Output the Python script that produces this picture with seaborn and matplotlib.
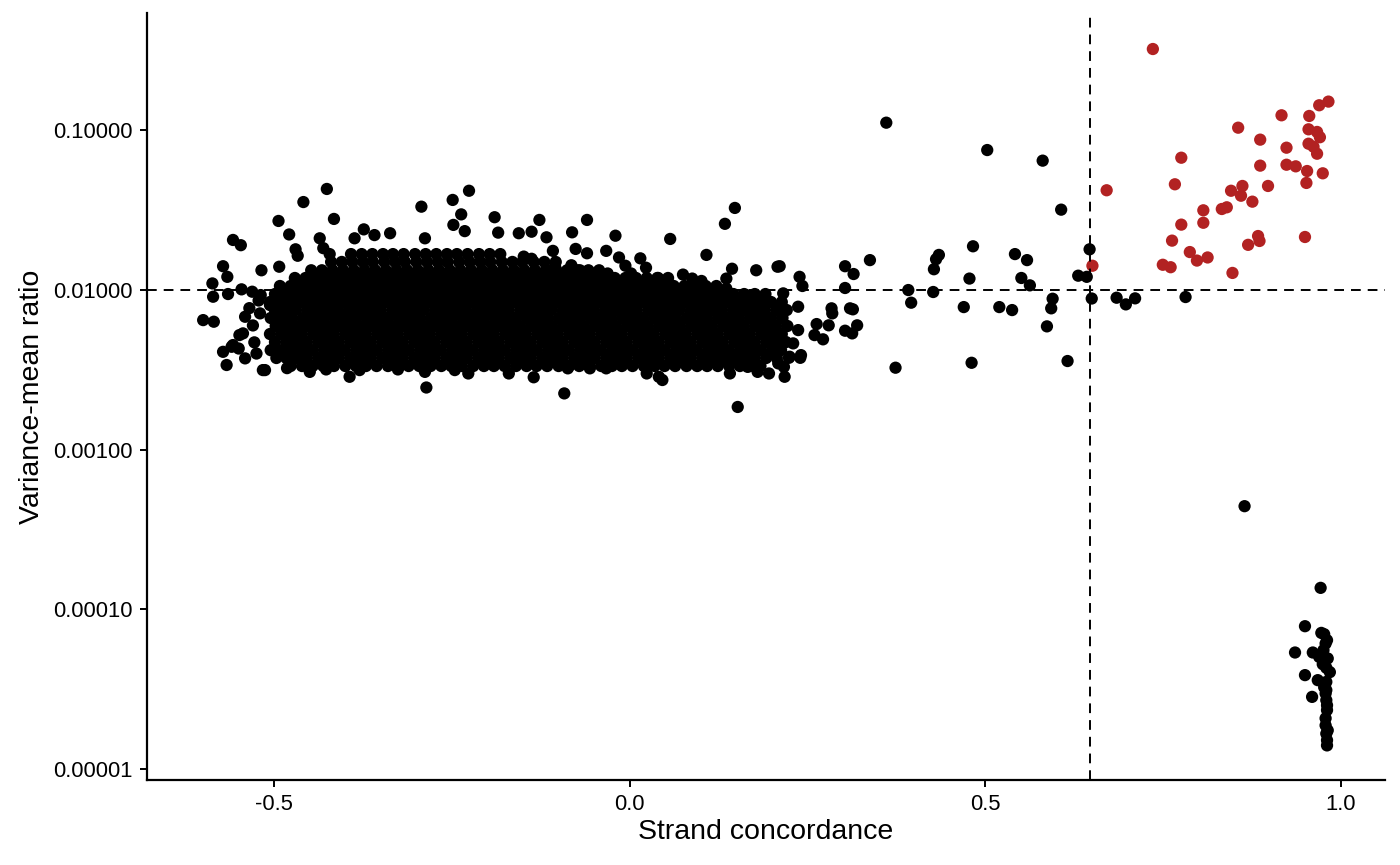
import seaborn as sns
import matplotlib.pyplot as plt
import pandas as pd
import numpy as np

# -------------------------------
# Data
# -------------------------------
# dense cloud of genes, read as rows of overlapping dots (variance-mean ratio per row)
blob_rows_y = [0.0168, 0.0150, 0.0133, 0.0119, 0.0106, 0.00944, 0.00841, 0.00749,
               0.00668, 0.00595, 0.00530, 0.00472, 0.00420, 0.00375, 0.00334]

blob_rows_x = [
    [-0.392, -0.377, -0.362, -0.347, -0.333, -0.318, -0.302, -0.287, -0.272, -0.257, -0.243,
     -0.228, -0.212, -0.197, -0.182],
    [-0.420, -0.405, -0.390, -0.375, -0.361, -0.345, -0.330, -0.316, -0.300, -0.285, -0.270,
     -0.256, -0.240, -0.225, -0.210, -0.196, -0.180, -0.165, -0.151, -0.135, -0.120, -0.104],
    [-0.448, -0.433, -0.418, -0.403, -0.388, -0.373, -0.358, -0.343, -0.328, -0.313, -0.298,
     -0.283, -0.268, -0.253, -0.238, -0.223, -0.208, -0.193, -0.178, -0.163, -0.148, -0.133,
     -0.118, -0.103, -0.088, -0.073, -0.058, -0.043],
    [-0.471, -0.456, -0.441, -0.426, -0.411, -0.396, -0.381, -0.366, -0.351, -0.336, -0.321,
     -0.306, -0.291, -0.276, -0.261, -0.246, -0.231, -0.216, -0.201, -0.186, -0.171, -0.156,
     -0.141, -0.126, -0.111, -0.096, -0.081, -0.066, -0.051, -0.036, -0.021, -0.006, 0.009,
     0.024, 0.039, 0.054],
    [-0.492, -0.477, -0.462, -0.448, -0.433, -0.418, -0.403, -0.388, -0.373, -0.358, -0.343,
     -0.328, -0.313, -0.298, -0.283, -0.268, -0.253, -0.238, -0.223, -0.208, -0.193, -0.178,
     -0.163, -0.148, -0.133, -0.118, -0.103, -0.088, -0.073, -0.058, -0.043, -0.028, -0.013,
     0.002, 0.017, 0.032, 0.047, 0.062, 0.077, 0.092, 0.107, 0.122],
    [-0.499, -0.484, -0.469, -0.454, -0.439, -0.424, -0.409, -0.394, -0.379, -0.364, -0.349,
     -0.334, -0.319, -0.304, -0.289, -0.274, -0.259, -0.244, -0.229, -0.214, -0.199, -0.184,
     -0.169, -0.154, -0.139, -0.124, -0.109, -0.094, -0.079, -0.064, -0.049, -0.034, -0.019,
     -0.004, 0.011, 0.026, 0.041, 0.056, 0.071, 0.086, 0.101, 0.116, 0.131, 0.146, 0.161,
     0.176, 0.191],
    [-0.506, -0.491, -0.476, -0.461, -0.446, -0.431, -0.416, -0.401, -0.386, -0.371, -0.356,
     -0.341, -0.326, -0.311, -0.296, -0.281, -0.266, -0.251, -0.236, -0.221, -0.206, -0.191,
     -0.176, -0.161, -0.146, -0.131, -0.116, -0.101, -0.086, -0.071, -0.056, -0.041, -0.026,
     -0.011, 0.004, 0.019, 0.034, 0.049, 0.064, 0.079, 0.094, 0.109, 0.124, 0.139, 0.154,
     0.169, 0.184, 0.199, 0.214],
    [-0.499, -0.484, -0.470, -0.454, -0.439, -0.424, -0.410, -0.394, -0.379, -0.364, -0.350,
     -0.334, -0.319, -0.304, -0.290, -0.274, -0.259, -0.244, -0.230, -0.214, -0.199, -0.184,
     -0.170, -0.154, -0.139, -0.124, -0.110, -0.094, -0.079, -0.064, -0.050, -0.034, -0.019,
     -0.004, 0.010, 0.026, 0.041, 0.056, 0.070, 0.086, 0.101, 0.116, 0.130, 0.146, 0.161,
     0.176, 0.190, 0.206, 0.221],
    [-0.505, -0.491, -0.476, -0.460, -0.446, -0.431, -0.415, -0.401, -0.386, -0.370, -0.356,
     -0.341, -0.325, -0.311, -0.296, -0.280, -0.266, -0.251, -0.235, -0.221, -0.206, -0.190,
     -0.176, -0.161, -0.145, -0.131, -0.116, -0.100, -0.086, -0.071, -0.055, -0.041, -0.026,
     -0.010, 0.004, 0.019, 0.035, 0.049, 0.064, 0.080, 0.094, 0.109, 0.125, 0.139, 0.154,
     0.170, 0.184, 0.199, 0.215],
    [-0.498, -0.484, -0.469, -0.453, -0.439, -0.424, -0.408, -0.394, -0.379, -0.363, -0.349,
     -0.334, -0.318, -0.304, -0.289, -0.273, -0.259, -0.244, -0.228, -0.214, -0.199, -0.183,
     -0.169, -0.154, -0.138, -0.124, -0.109, -0.093, -0.079, -0.064, -0.048, -0.034, -0.019,
     -0.003, 0.011, 0.026, 0.042, 0.056, 0.071, 0.087, 0.101, 0.116, 0.132, 0.146, 0.161,
     0.177, 0.191, 0.206, 0.222],
    [-0.506, -0.490, -0.476, -0.461, -0.445, -0.431, -0.416, -0.400, -0.386, -0.371, -0.355,
     -0.341, -0.326, -0.310, -0.296, -0.281, -0.265, -0.251, -0.236, -0.220, -0.206, -0.191,
     -0.175, -0.161, -0.146, -0.130, -0.116, -0.101, -0.085, -0.071, -0.056, -0.040, -0.026,
     -0.011, 0.005, 0.019, 0.034, 0.050, 0.064, 0.079, 0.095, 0.109, 0.124, 0.140, 0.154,
     0.169, 0.185, 0.199, 0.214],
    [-0.499, -0.483, -0.469, -0.454, -0.438, -0.424, -0.409, -0.393, -0.379, -0.364, -0.348,
     -0.334, -0.319, -0.303, -0.289, -0.274, -0.258, -0.244, -0.229, -0.213, -0.199, -0.184,
     -0.168, -0.154, -0.139, -0.123, -0.109, -0.094, -0.078, -0.064, -0.049, -0.033, -0.019,
     -0.004, 0.012, 0.026, 0.041, 0.057, 0.071, 0.086, 0.102, 0.116, 0.131, 0.147, 0.161,
     0.176, 0.192, 0.206, 0.220],
    [-0.505, -0.490, -0.475, -0.461, -0.446, -0.430, -0.416, -0.401, -0.385, -0.371, -0.356,
     -0.340, -0.326, -0.311, -0.295, -0.281, -0.266, -0.250, -0.236, -0.221, -0.205, -0.191,
     -0.176, -0.160, -0.146, -0.131, -0.115, -0.101, -0.086, -0.070, -0.056, -0.041, -0.025,
     -0.011, 0.004, 0.020, 0.034, 0.049, 0.065, 0.079, 0.094, 0.110, 0.124, 0.139, 0.155,
     0.169, 0.184, 0.200, 0.213],
    [-0.497, -0.483, -0.468, -0.454, -0.438, -0.423, -0.409, -0.393, -0.378, -0.364, -0.348,
     -0.333, -0.319, -0.303, -0.288, -0.274, -0.258, -0.243, -0.229, -0.213, -0.198, -0.184,
     -0.168, -0.153, -0.139, -0.123, -0.108, -0.094, -0.078, -0.063, -0.049, -0.033, -0.018,
     -0.004, 0.012, 0.027, 0.041, 0.057, 0.072, 0.086, 0.102, 0.117, 0.131, 0.147, 0.162,
     0.176, 0.192, 0.207],
    [-0.477, -0.461, -0.446, -0.431, -0.416, -0.400, -0.385, -0.371, -0.356, -0.340, -0.325,
     -0.311, -0.296, -0.280, -0.265, -0.251, -0.236, -0.220, -0.205, -0.191, -0.176, -0.160,
     -0.145, -0.131, -0.116, -0.100, -0.085, -0.071, -0.056, -0.040, -0.025, -0.011, 0.004,
     0.020, 0.035, 0.049, 0.064, 0.080, 0.095, 0.109, 0.124, 0.140, 0.155, 0.169, 0.184],
]

# scattered black genes around and outside the cloud
other_x = [
    -0.426, -0.459, -0.416, -0.494, -0.479, -0.558, -0.547, -0.470, -0.436, -0.431, -0.467,
    -0.422, -0.572, -0.566, -0.587, -0.586, -0.565, -0.546, -0.531, -0.519, -0.518, -0.493,
    -0.600, -0.585, -0.572, -0.560, -0.567, -0.541, -0.516, -0.544, -0.541, -0.520, -0.506,
    -0.387, -0.374, -0.359, -0.337, -0.293, -0.288, -0.249, -0.226, -0.237, -0.248, -0.232,
    -0.190, -0.185, -0.394, -0.286, -0.530, -0.528, -0.525, -0.535, -0.550, -0.522,
    -0.558, -0.549, -0.513, -0.482, -0.450, -0.427, -0.380, -0.326, -0.288, -0.246, -0.227,
    -0.127, -0.060, -0.138, -0.156, -0.117, -0.081, -0.020, 0.057, 0.148, 0.134, 0.108,
    -0.108, -0.076, -0.060, -0.033, -0.015, 0.015, -0.006, 0.002, -0.149, -0.138, -0.105,
    -0.082, -0.070, -0.047, -0.031, 0.023, 0.040, 0.075, 0.088, 0.101, 0.144, 0.136, 0.136,
    0.178, 0.208, 0.216, 0.190, 0.164, 0.237, 0.237, 0.230, 0.241, 0.225, 0.209, 0.196,
    0.180, 0.166, 0.138, 0.141, 0.152, 0.083, 0.108, 0.041, 0.046, 0.024, -0.092, -0.087,
    -0.056, -0.033, -0.135, -0.170,
    0.361, 0.503, 0.581, 0.607, 0.483, 0.542, 0.559, 0.435, 0.431, 0.428, 0.338, 0.303,
    0.315, 0.239, 0.243, 0.211, 0.478, 0.551, 0.563, 0.631, 0.303, 0.392, 0.396, 0.427,
    0.470, 0.520, 0.538, 0.595, 0.593, 0.587, 0.284, 0.285, 0.310, 0.314, 0.263, 0.280,
    0.260, 0.272, 0.303, 0.313, 0.320, 0.374, 0.481, 0.616, 0.240, 0.224, 0.217, 0.218,
    0.647, 0.643, 0.650, 0.685, 0.698, 0.711, 0.782, 0.865, 0.972,
]
other_y = [
    0.0430, 0.0356, 0.0279, 0.0271, 0.0223, 0.0206, 0.0191, 0.0180, 0.0211, 0.0183, 0.0164,
    0.0168, 0.0141, 0.0121, 0.0110, 0.00908, 0.00944, 0.0101, 0.00976, 0.00930, 0.0133, 0.0140,
    0.00648, 0.00633, 0.00410, 0.00441, 0.00339, 0.00373, 0.00315, 0.00535, 0.00680, 0.00714, 0.00805,
    0.0211, 0.0240, 0.0221, 0.0227, 0.0333, 0.0211, 0.0367, 0.0419, 0.0298, 0.0256, 0.0234,
    0.0286, 0.0229, 0.00286, 0.00245, 0.00600, 0.00470, 0.00400, 0.00770, 0.00430, 0.00860,
    0.00452, 0.00522, 0.00315, 0.00324, 0.00307, 0.00318, 0.00315, 0.00318, 0.00307, 0.00315, 0.00300,
    0.0275, 0.0275, 0.0232, 0.0227, 0.0214, 0.0230, 0.0219, 0.0209, 0.0327, 0.0260, 0.0166,
    0.0176, 0.0181, 0.0170, 0.0176, 0.0160, 0.0158, 0.0142, 0.0127, 0.0162, 0.0157, 0.0141,
    0.0143, 0.0133, 0.0128, 0.0127, 0.0138, 0.0119, 0.0125, 0.0118, 0.0114, 0.0136, 0.0118, 0.0102,
    0.0133, 0.0140, 0.00953, 0.00887, 0.00930, 0.00786, 0.00561, 0.00463, 0.00391, 0.00382, 0.00347, 0.00300,
    0.00307, 0.00330, 0.00355, 0.00300, 0.00185, 0.00355, 0.00373, 0.00286, 0.00273, 0.00300, 0.00225, 0.00323,
    0.00323, 0.00323, 0.00284, 0.00300,
    0.1119, 0.0754, 0.0647, 0.0319, 0.0188, 0.0168, 0.0154, 0.0166, 0.0156, 0.0135, 0.0154, 0.0141,
    0.0126, 0.0121, 0.0106, 0.0141, 0.0118, 0.0119, 0.0107, 0.0123, 0.0103, 0.0100, 0.00833, 0.00972,
    0.00782, 0.00782, 0.00749, 0.00882, 0.00768, 0.00592, 0.00768, 0.00714, 0.00768, 0.00757, 0.00612, 0.00601,
    0.00522, 0.00491, 0.00556, 0.00535, 0.00601, 0.00326, 0.00350, 0.00359, 0.00376, 0.00376, 0.00330, 0.00286,
    0.0180, 0.0121, 0.00885, 0.00895, 0.00813, 0.00887, 0.00904, 0.000442, 0.000136,
]

# low-ratio column near concordance 1
low_x = [0.950, 0.973, 0.977, 0.979, 0.936, 0.961, 0.970, 0.982, 0.980, 0.950, 0.968, 0.980,
         0.979, 0.960, 0.980, 0.981, 0.979, 0.980, 0.981, 0.981, 0.980, 0.979, 0.982, 0.976,
         0.981, 0.975, 0.985, 0.981, 0.977]
low_y = [7.82e-5, 7.10e-5, 6.97e-5, 6.09e-5, 5.35e-5, 5.35e-5, 5.02e-5, 4.91e-5, 4.29e-5, 3.86e-5,
         3.59e-5, 3.50e-5, 2.96e-5, 2.82e-5, 2.69e-5, 2.33e-5, 1.87e-5, 1.66e-5, 1.51e-5, 1.40e-5,
         3.11e-5, 2.07e-5, 1.74e-5, 5.53e-5, 6.39e-5, 4.52e-5, 4.03e-5, 2.50e-5, 3.24e-5]

# highlighted genes (high concordance and high variance-mean ratio)
sel_x = [0.736, 0.983, 0.970, 0.917, 0.956, 0.856, 0.955, 0.967, 0.971, 0.887, 0.955, 0.962,
         0.924, 0.967, 0.776, 0.887, 0.924, 0.937, 0.953, 0.975, 0.952, 0.767, 0.898, 0.862,
         0.846, 0.860, 0.671, 0.876, 0.840, 0.833, 0.807, 0.807, 0.776, 0.950, 0.884, 0.886,
         0.870, 0.763, 0.788, 0.813, 0.798, 0.750, 0.761, 0.848, 0.651]
sel_y = [0.324, 0.1517, 0.1439, 0.1245, 0.1233, 0.1041, 0.1017, 0.0979, 0.0907, 0.0876, 0.0826,
         0.0791, 0.0780, 0.0715, 0.0675, 0.0602, 0.0610, 0.0596, 0.0557, 0.0539, 0.0469, 0.0460,
         0.0449, 0.0449, 0.0419, 0.0390, 0.0422, 0.0358, 0.0330, 0.0322, 0.0316, 0.0264, 0.0257,
         0.0215, 0.0218, 0.0203, 0.0192, 0.0204, 0.0173, 0.0160, 0.0153, 0.0144, 0.0139, 0.0128,
         0.0142]

conc_cut = 0.647
ratio_cut = 0.01
y_ticks = [1e-5, 1e-4, 1e-3, 1e-2, 1e-1]
y_tick_labels = ["0.00001", "0.00010", "0.00100", "0.01000", "0.10000"]
x_ticks = [-0.5, 0.0, 0.5, 1.0]
x_tick_labels = ["-0.5", "0.0", "0.5", "1.0"]

# -------------------------------
# Build one table
# -------------------------------
bx, by = [], []
for yv, row in zip(blob_rows_y, blob_rows_x):
    bx += row
    by += [yv] * len(row)

df = pd.concat([
    pd.DataFrame({"conc": bx, "ratio": by, "group": "other"}),
    pd.DataFrame({"conc": other_x, "ratio": other_y, "group": "other"}),
    pd.DataFrame({"conc": low_x, "ratio": low_y, "group": "other"}),
    pd.DataFrame({"conc": sel_x, "ratio": sel_y, "group": "selected"}),
], ignore_index=True)

# -------------------------------
# Style
# -------------------------------
sns.set_style("ticks")
plt.rcParams["font.family"] = ["Liberation Sans", "DejaVu Sans"]

fig = plt.figure(figsize=(14, 8.65), dpi=100)
ax = fig.add_axes([0.105, 0.098, 0.884, 0.887])

sns.scatterplot(data=df, x="conc", y="ratio", hue="group",
                palette={"other": "black", "selected": "#B22222"},
                s=78, linewidth=0, alpha=1, legend=False, ax=ax)

ax.axvline(conc_cut, color="black", lw=1.4, ls=(0, (5, 3.6)), zorder=3)
ax.axhline(ratio_cut, color="black", lw=1.4, ls=(0, (5, 3.6)), zorder=3)

ax.set_yscale("log")
ax.set_xlim(-0.679, 1.062)
ax.set_ylim(8.47e-6, 0.545)
ax.set_yticks(y_ticks)
ax.set_yticklabels(y_tick_labels)
ax.yaxis.set_minor_locator(plt.NullLocator())
ax.set_xticks(x_ticks)
ax.set_xticklabels(x_tick_labels)

ax.tick_params(axis="both", which="major", direction="out", length=5, width=1.4,
               labelsize=15.8, colors="black", pad=5)
for side in ["top", "right"]:
    ax.spines[side].set_visible(False)
for side in ["left", "bottom"]:
    ax.spines[side].set_linewidth(1.6)
    ax.spines[side].set_color("black")

ax.set_xlabel("Strand concordance", fontsize=20.5, labelpad=3, color="black")
ax.set_ylabel("Variance-mean ratio", fontsize=20.5, labelpad=6, color="black")

plt.savefig("out.png", dpi=100)
plt.close()
